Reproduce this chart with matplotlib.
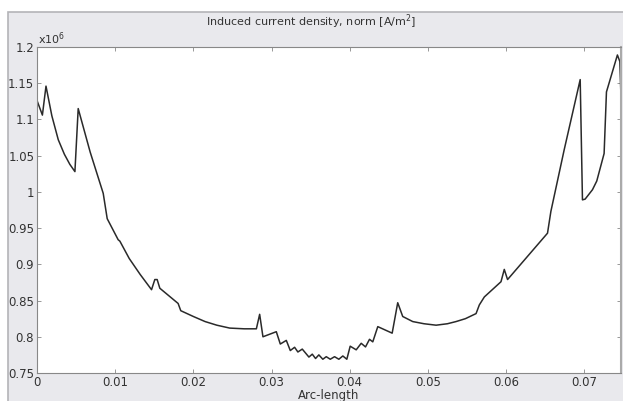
import numpy as np
import matplotlib.pyplot as plt
from matplotlib.patches import Rectangle

# arc-length (m) y densidad de corriente (x1e6 A/m^2)
arc = [0.0, 0.00004, 0.00069, 0.00115, 0.00190, 0.00272, 0.00350, 0.00420,
       0.00485, 0.00527, 0.00680, 0.00847, 0.00898, 0.01038, 0.01060, 0.01180,
       0.01320, 0.01465, 0.01507, 0.01537, 0.01571, 0.01805, 0.01839, 0.02000,
       0.02150, 0.02300, 0.02465, 0.02650, 0.02806, 0.02848, 0.02890, 0.03061,
       0.03112, 0.03189, 0.03240, 0.03295, 0.03337, 0.03393, 0.03478, 0.03521,
       0.03563, 0.03605, 0.03656, 0.03700, 0.03751, 0.03806, 0.03861, 0.03912,
       0.03963, 0.04006, 0.04083, 0.04147, 0.04202, 0.04253, 0.04295, 0.04359,
       0.04543, 0.04614, 0.04678, 0.04806, 0.04950, 0.05105, 0.05250, 0.05360,
       0.05480, 0.05616, 0.05658, 0.05722, 0.05935, 0.05977, 0.06019, 0.06530,
       0.06573, 0.06743, 0.06948, 0.06977, 0.07011, 0.07105, 0.07160, 0.07254,
       0.07284, 0.07424, 0.07455, 0.07470]
dens = [1.128, 1.125, 1.106, 1.146, 1.105, 1.072, 1.052, 1.038,
        1.028, 1.115, 1.055, 0.998, 0.963, 0.934, 0.932, 0.908,
        0.886, 0.865, 0.879, 0.879, 0.867, 0.846, 0.836, 0.828,
        0.821, 0.816, 0.812, 0.811, 0.811, 0.831, 0.800, 0.807,
        0.790, 0.795, 0.781, 0.7855, 0.779, 0.783, 0.772, 0.776,
        0.770, 0.775, 0.769, 0.7725, 0.769, 0.7725, 0.769, 0.7735,
        0.769, 0.787, 0.782, 0.791, 0.786, 0.7965, 0.793, 0.814,
        0.805, 0.847, 0.828, 0.821, 0.818, 0.816, 0.818, 0.821,
        0.825, 0.832, 0.844, 0.855, 0.876, 0.893, 0.879, 0.943,
        0.973, 1.058, 1.155, 0.989, 0.990, 1.003, 1.015, 1.053,
        1.138, 1.189, 1.180, 1.131]

xticks = [0, 0.01, 0.02, 0.03, 0.04, 0.05, 0.06, 0.07]
xlabels = ['0', '0.01', '0.02', '0.03', '0.04', '0.05', '0.06', '0.07']
yticks = [0.75, 0.8, 0.85, 0.9, 0.95, 1.0, 1.05, 1.1, 1.15, 1.2]
ylabels = ['0.75', '0.8', '0.85', '0.9', '0.95', '1', '1.05', '1.1', '1.15', '1.2']

fig = plt.figure(figsize=(6.23, 4.01), dpi=100, facecolor='white')
# panel gris de fondo
fig.patches.append(Rectangle((8/623, -0.01), 1.0, 1 - 12/401 + 0.01,
                             transform=fig.transFigure, facecolor='#e9e9ed',
                             edgecolor='#b4b4b8', linewidth=1.2, zorder=-5))

ax = fig.add_axes([37/623, 1 - 373/401, 584/623, 326/401])
ax.set_facecolor('white')
ax.set_zorder(2)
ax.plot(arc, dens, color='#2a2a2a', lw=1.1)
ax.set_xlim(0, 0.0747)
ax.set_ylim(0.75, 1.2)
ax.set_xticks(xticks)
ax.set_xticklabels(xlabels)
ax.set_yticks(yticks)
ax.set_yticklabels(ylabels)
ax.tick_params(direction='in', top=True, right=True, length=3, width=0.6,
               labelsize=8.5, labelcolor='#333333', color='#888888', pad=2)
for s in ax.spines.values():
    s.set_color('#888888')
    s.set_linewidth(0.8)
ax.spines['right'].set_color('#aaaaaa')
ax.spines['right'].set_linewidth(1.5)

ax.set_xlabel('Arc-length', fontsize=8.5, color='#333333', labelpad=0)
fig.text(311/623, 1 - 22/401, 'Induced current density, norm [A/m$^2$]',
         ha='center', va='center', fontsize=8, color='#333333')
fig.text(38/623, 1 - 47/401, r'x10$^6$', ha='left', va='bottom',
         fontsize=8, color='#333333')

fig.savefig('out.png', dpi=100, facecolor=fig.get_facecolor())
